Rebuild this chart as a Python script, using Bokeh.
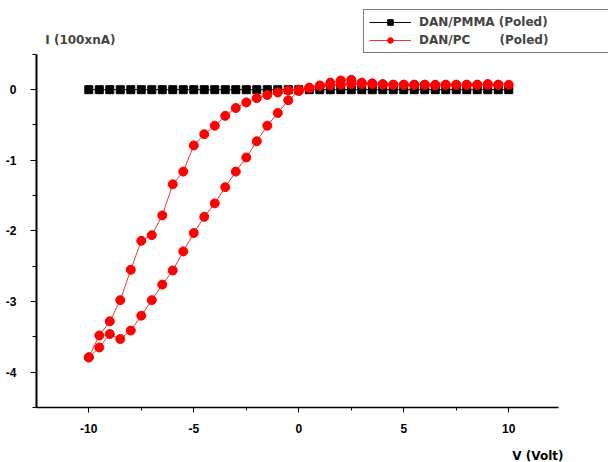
from bokeh.plotting import figure
from bokeh.models import FixedTicker, Legend, LegendItem, Label, Range1d, Title
from bokeh.embed import file_html
from bokeh.resources import INLINE

# ---- data ----
v_pmma = [-10.0, -9.5, -9.0, -8.5, -8.0, -7.5, -7.0, -6.5, -6.0, -5.5, -5.0,
          -4.5, -4.0, -3.5, -3.0, -2.5, -2.0, -1.5, -1.0, -0.5, 0.0,
          0.5, 1.0, 1.5, 2.0, 2.5, 3.0, 3.5, 4.0, 4.5, 5.0,
          5.5, 6.0, 6.5, 7.0, 7.5, 8.0, 8.5, 9.0, 9.5, 10.0]
i_pmma = [0.0, 0.0, 0.0, 0.0, 0.0, 0.0, 0.0, 0.0, 0.0, 0.0, 0.0,
          0.0, 0.0, 0.0, 0.0, 0.0, 0.0, 0.0, 0.0, 0.0, 0.0,
          0.0, 0.0, 0.0, 0.0, 0.0, 0.0, 0.0, 0.0, 0.0, 0.0,
          0.0, 0.0, 0.0, 0.0, 0.0, 0.0, 0.0, 0.0, 0.0, 0.0]

v_pc = [-10.0, -9.5, -9.0, -8.5, -8.0, -7.5, -7.0, -6.5, -6.0, -5.5, -5.0,
        -4.5, -4.0, -3.5, -3.0, -2.5, -2.0, -1.5, -1.0, -0.5, 0.0,
        0.5, 1.0, 1.5, 2.0, 2.5, 3.0, 3.5, 4.0, 4.5, 5.0,
        5.5, 6.0, 6.5, 7.0, 7.5, 8.0, 8.5, 9.0, 9.5, 10.0,
        9.5, 9.0, 8.5, 8.0, 7.5, 7.0, 6.5, 6.0, 5.5, 5.0,
        4.5, 4.0, 3.5, 3.0, 2.5, 2.0, 1.5, 1.0, 0.5, 0.0,
        -0.5, -1.0, -1.5, -2.0, -2.5, -3.0, -3.5, -4.0, -4.5, -5.0,
        -5.5, -6.0, -6.5, -7.0, -7.5, -8.0, -8.5, -9.0, -9.5, -10.0]
i_pc = [-3.79, -3.65, -3.46, -3.53, -3.41, -3.20, -2.98, -2.76, -2.56, -2.29, -2.03,
        -1.80, -1.61, -1.38, -1.16, -0.96, -0.73, -0.51, -0.33, -0.15, -0.02,
        0.03, 0.06, 0.10, 0.13, 0.14, 0.10, 0.09, 0.08, 0.07, 0.07,
        0.07, 0.07, 0.06, 0.07, 0.07, 0.07, 0.07, 0.08, 0.07, 0.07,
        0.07, 0.07, 0.07, 0.07, 0.07, 0.07, 0.07, 0.07, 0.07, 0.07,
        0.07, 0.07, 0.08, 0.08, 0.08, 0.07, 0.06, 0.05, 0.02, 0.00,
        -0.01, -0.04, -0.075, -0.12, -0.18, -0.26, -0.37, -0.51, -0.63, -0.79,
        -1.16, -1.34, -1.78, -2.06, -2.14, -2.55, -2.98, -3.28, -3.48, -3.79]

x_major = [-10, -5, 0, 5, 10]
x_tick_labels = ["-10", "-5", "0", "5", "10"]
x_minor = [-7.5, -2.5, 2.5, 7.5]
y_major = [0, -1, -2, -3, -4]
y_tick_labels = ["0", "-1", "-2", "-3", "-4"]
y_minor = [0.5, -0.5, -1.5, -2.5, -3.5, -4.5]
x_axis_span = (-12.49, 12.38)
y_axis_span = (-4.5, 0.5)

label_pmma = "DAN/PMMA (Poled)"
label_pc = "DAN/PC" + "\u00a0" * 7 + "(Poled)"
y_title = "I (100xnA)"
x_title = "V (Volt)"

# ---- figure: frame runs to the top and right canvas edges so the legend and
# the axis title inside it are not clipped; axes are limited with bounds ----
p = figure(width=608, height=462,
           x_range=Range1d(-12.49, 14.75), y_range=Range1d(-4.5, 1.2627),
           output_backend="svg", toolbar_location=None,
           min_border_left=36, min_border_right=0,
           min_border_top=0, min_border_bottom=54)
p.xgrid.visible = False
p.ygrid.visible = False
p.outline_line_color = None
p.background_fill_color = "white"
p.border_fill_color = "white"

for ax in (p.xaxis[0], p.yaxis[0]):
    ax.axis_line_color = "black"
    ax.major_tick_line_color = "black"
    ax.minor_tick_line_color = "black"
    ax.major_tick_in = 0
    ax.minor_tick_in = 0
    ax.major_label_text_font = "Liberation Sans"
    ax.major_label_text_font_style = "bold"
    ax.major_label_text_font_size = "12px"
    ax.major_label_text_color = "black"

p.xaxis.ticker = FixedTicker(ticks=x_major, minor_ticks=x_minor)
p.yaxis.ticker = FixedTicker(ticks=y_major, minor_ticks=y_minor)
p.xaxis.major_label_overrides = dict(zip(x_major, x_tick_labels))
p.yaxis.major_label_overrides = dict(zip(y_major, y_tick_labels))
p.xaxis.bounds = x_axis_span
p.yaxis.bounds = y_axis_span
p.xaxis.axis_line_width = 1.5
p.yaxis.axis_line_width = 2
p.xaxis.major_tick_out = 5
p.xaxis.minor_tick_out = 3
p.yaxis.major_tick_out = 6
p.yaxis.minor_tick_out = 4
p.xaxis.major_label_standoff = 11
p.yaxis.major_label_standoff = 14
# invisible spacer label pushes the "V (Volt)" title a few px lower
p.xaxis.axis_label = "\u00a0"
p.xaxis.axis_label_text_font_size = "7px"
p.xaxis.axis_label_standoff = 1

l1 = p.line(v_pmma, i_pmma, line_color="black", line_width=1)
s1 = p.scatter(v_pmma, i_pmma, marker="square", size=8,
               fill_color="black", line_color="black")
l2 = p.line(v_pc, i_pc, line_color="#ff3030", line_width=1)
s2 = p.scatter(v_pc, i_pc, marker="circle", size=9,
               fill_color="#ff0000", line_color="#ff0000")

legend = Legend(items=[LegendItem(label=label_pmma, renderers=[l1, s1]),
                       LegendItem(label=label_pc, renderers=[l2, s2])],
                location=(327, 354))
legend.border_line_color = "black"
legend.border_line_width = 1
legend.background_fill_color = "white"
legend.background_fill_alpha = 1
legend.label_text_font = "DejaVu Sans"
legend.label_text_font_style = "bold"
legend.label_text_font_size = "12px"
legend.glyph_width = 42
legend.glyph_height = 14
legend.label_height = 14
legend.label_width = 200
legend.label_standoff = 8
legend.spacing = 4
legend.padding = 5
legend.margin = 0
p.add_layout(legend)

p.add_layout(Label(x=-12.073, y=0.698, text=y_title, text_font="DejaVu Sans",
                   text_font_style="bold", text_font_size="12px",
                   text_baseline="middle", text_align="left"))

p.add_layout(Title(text=x_title, align="right", offset=45, standoff=0,
                   text_font="DejaVu Sans", text_font_style="bold",
                   text_font_size="12px", text_color="black"), "below")

open("out.html", "w").write(file_html(p, INLINE))
